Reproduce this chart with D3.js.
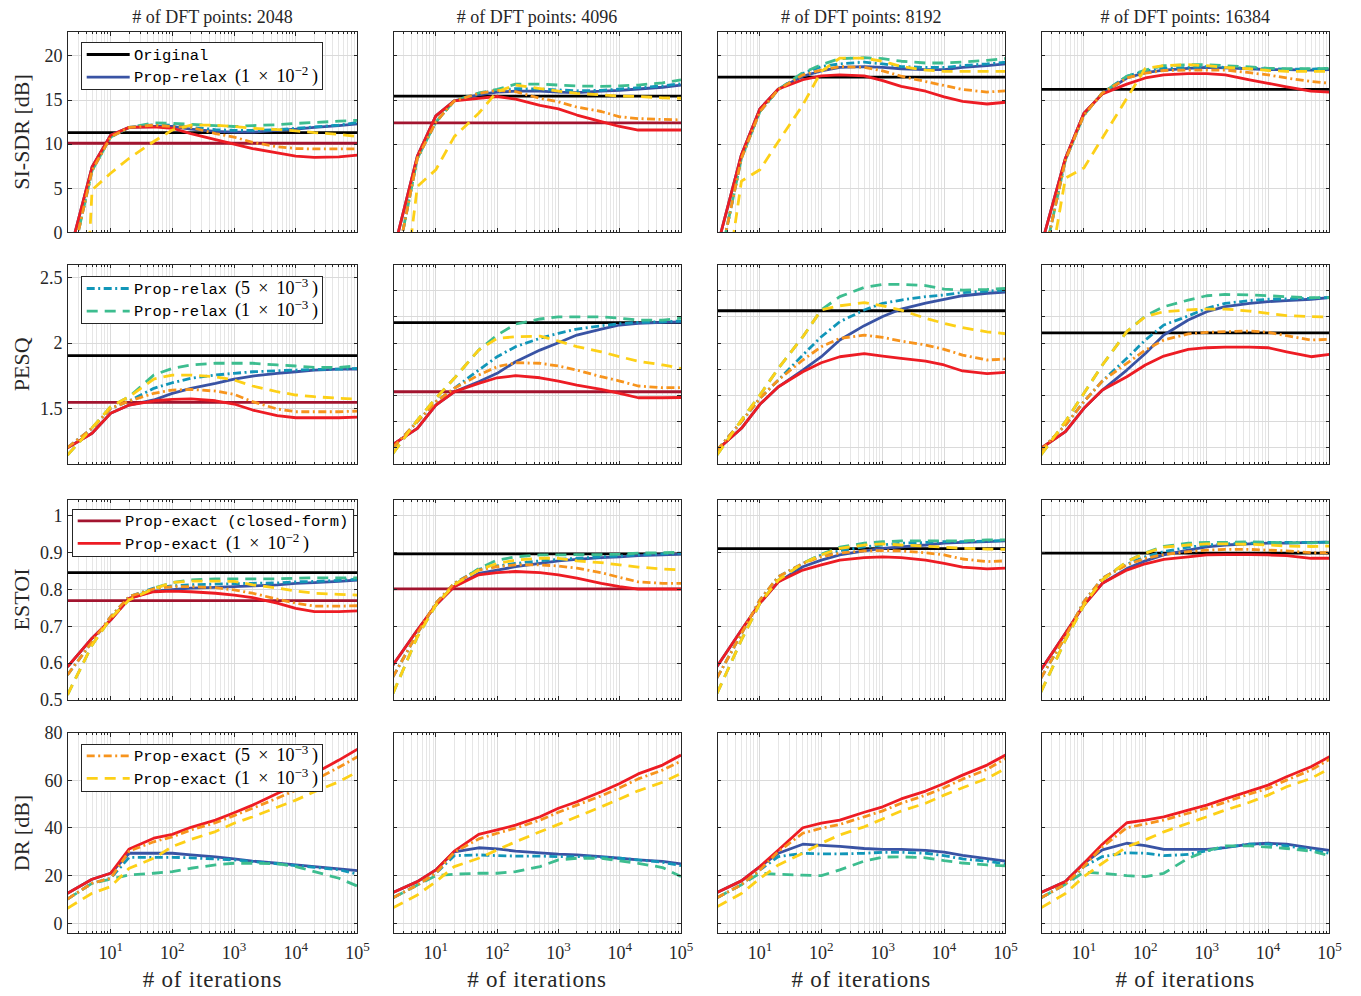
<!DOCTYPE html>
<html><head><meta charset="utf-8">
<script src="https://cdn.jsdelivr.net/npm/d3@7"></script>
<style>body{margin:0;background:#fff} svg{display:block}</style>
</head><body>
<svg id="chart" width="1361" height="996"></svg>
<script>
// ---------------- DATA ----------------
const iterations = [2,5,10,20,50,100,200,500,1000,2000,5000,10000,20000,50000,100000];
const dftSizes = [2048, 4096, 8192, 16384];
const metricNames = ["SI-SDR [dB]", "PESQ", "ESTOI", "DR [dB]"];
const curveKeys = ["relax1e2","relax5e3","relax1e3","exact1e2","exact5e3","exact1e3"];

// reference (horizontal) levels per DFT size
const originalSISDR   = [11.3, 15.45, 17.6, 16.2];
const closedFormSISDR = [10.1, 12.4, null, null];
const originalPESQ    = [1.903, 2.156, 2.247, 2.077];
const closedFormPESQ  = [1.546, 1.627, null, null];
const originalESTOI   = [0.846, 0.897, 0.911, 0.899];
const closedFormESTOI = [0.770, 0.802, null, null];
const originalDR      = [null, null, null, null];
const closedFormDR    = [null, null, null, null];

// each panel: [relax1e2, relax5e3, relax1e3, exact1e2, exact5e3, exact1e3]
const sisdr_2048 = [
 [-3.3,7.4,11.0,11.9,12.0,12.0,11.7,11.45,11.35,11.35,11.55,11.7,11.9,12.1,12.3],
 [-5.4,7.0,10.8,11.9,12.2,12.15,11.9,11.65,11.55,11.55,11.65,11.8,11.95,12.15,12.45],
 [-5.4,7.0,10.8,11.9,12.4,12.35,12.25,12.1,12.0,12.1,12.2,12.35,12.45,12.6,12.7],
 [-3.3,7.4,11.0,11.9,11.95,11.8,11.2,10.5,10.0,9.5,9.0,8.65,8.5,8.55,8.75],
 [-5.4,7.0,10.8,11.9,12.15,12.0,11.9,11.2,10.8,10.2,9.7,9.5,9.45,9.45,9.45],
 [-50,4.8,6.7,8.4,10.3,11.6,12.15,12.15,12.0,11.8,11.65,11.5,11.3,11.1,10.85]];
const sisdr_4096 = [
 [-2.4,8.65,13.2,14.9,15.6,15.9,16.0,16.0,15.9,15.85,16.0,16.1,16.25,16.45,16.7],
 [-5.5,8.4,12.5,14.9,15.75,16.1,16.3,16.25,16.15,16.05,16.1,16.25,16.4,16.6,16.85],
 [-5.5,8.4,12.5,14.9,15.8,16.2,16.8,16.8,16.7,16.6,16.55,16.6,16.7,16.95,17.3],
 [-2.4,8.65,13.2,14.9,15.2,15.4,15.1,14.4,14.0,13.3,12.55,12.0,11.6,11.6,11.6],
 [-5.5,8.4,12.5,14.9,15.75,16.1,15.95,15.2,14.8,14.2,13.7,13.1,12.9,12.8,12.75],
 [-17,5.2,7.1,10.85,13.5,15.95,16.7,16.3,16.0,15.75,15.6,15.45,15.4,15.25,15.2]];
const sisdr_8192 = [
 [-1.75,8.8,14.0,16.25,17.7,18.3,18.7,18.8,18.7,18.55,18.45,18.45,18.7,18.9,19.1],
 [-4.8,8.4,13.7,16.2,18.0,18.8,19.1,19.3,19.1,18.8,18.7,18.7,18.9,19.1,19.3],
 [-4.8,8.4,13.7,16.2,18.1,19.0,19.7,19.8,19.7,19.4,19.2,19.2,19.3,19.5,19.7],
 [-1.75,8.8,14.0,16.25,17.3,17.75,17.85,17.75,17.2,16.55,16.0,15.35,14.85,14.55,14.75],
 [-4.8,8.4,13.7,16.2,17.85,18.4,18.8,18.7,18.3,17.7,17.1,16.65,16.2,15.9,16.05],
 [-13.1,5.8,7.1,10.3,14.45,18.25,19.75,19.75,19.4,18.8,18.4,18.25,18.25,18.25,18.25]];
const sisdr_16384 = [
 [-1.6,8.4,13.5,15.7,17.5,18.1,18.4,18.6,18.7,18.65,18.55,18.45,18.45,18.4,18.45],
 [-4.5,8.2,13.3,15.8,17.7,18.3,18.6,18.7,18.8,18.7,18.6,18.55,18.5,18.5,18.6],
 [-4.5,8.2,13.3,15.8,17.7,18.4,18.9,19.0,19.0,18.9,18.75,18.6,18.55,18.55,18.6],
 [-1.6,8.4,13.5,15.7,16.8,17.5,17.85,18.0,18.0,17.85,17.3,16.9,16.5,16.0,15.9],
 [-4.5,8.2,13.3,15.8,17.5,18.05,18.35,18.4,18.4,18.4,18.1,17.85,17.5,17.1,16.9],
 [-9.8,6.15,7.3,10.7,15.2,18.6,18.9,19.0,18.9,18.7,18.55,18.35,18.25,18.25,18.25]];

const pesq_2048 = [
 [1.198,1.309,1.462,1.525,1.564,1.615,1.653,1.691,1.724,1.747,1.768,1.78,1.793,1.8,1.8],
 [1.2,1.347,1.5,1.556,1.653,1.696,1.73,1.755,1.768,1.78,1.788,1.793,1.798,1.8,1.806],
 [1.142,1.35,1.512,1.589,1.755,1.806,1.832,1.845,1.845,1.845,1.832,1.824,1.814,1.814,1.824],
 [1.198,1.309,1.462,1.525,1.558,1.569,1.572,1.558,1.533,1.487,1.444,1.428,1.428,1.428,1.432],
 [1.2,1.347,1.5,1.556,1.615,1.64,1.645,1.632,1.607,1.551,1.495,1.474,1.474,1.474,1.479],
 [1.142,1.35,1.512,1.589,1.724,1.755,1.755,1.742,1.717,1.671,1.627,1.602,1.589,1.577,1.571]];
const pesq_4096 = [
 [1.224,1.347,1.525,1.627,1.704,1.768,1.857,1.946,2.002,2.061,2.107,2.138,2.151,2.158,2.161],
 [1.2,1.398,1.551,1.653,1.793,1.895,1.972,2.036,2.074,2.107,2.132,2.148,2.158,2.163,2.168],
 [1.155,1.41,1.577,1.73,1.946,2.061,2.145,2.184,2.2,2.2,2.2,2.19,2.176,2.176,2.19],
 [1.224,1.347,1.525,1.627,1.691,1.734,1.75,1.734,1.709,1.678,1.645,1.615,1.581,1.581,1.583],
 [1.2,1.398,1.551,1.653,1.755,1.819,1.849,1.845,1.824,1.793,1.742,1.709,1.671,1.658,1.658],
 [1.155,1.41,1.577,1.73,1.946,2.036,2.048,2.053,2.015,1.972,1.933,1.895,1.861,1.832,1.806]];
const pesq_8192 = [
 [1.181,1.347,1.531,1.665,1.793,1.895,2.023,2.133,2.203,2.26,2.305,2.335,2.362,2.381,2.389],
 [1.18,1.398,1.577,1.717,1.908,2.048,2.163,2.253,2.304,2.329,2.355,2.368,2.386,2.398,2.405],
 [1.143,1.41,1.602,1.806,2.048,2.254,2.355,2.426,2.449,2.449,2.44,2.413,2.405,2.41,2.418],
 [1.181,1.347,1.531,1.665,1.78,1.849,1.895,1.918,1.9,1.883,1.862,1.832,1.786,1.765,1.775],
 [1.18,1.398,1.577,1.717,1.87,1.972,2.036,2.061,2.043,2.015,1.985,1.952,1.908,1.87,1.878],
 [1.143,1.41,1.602,1.806,2.048,2.254,2.285,2.31,2.285,2.252,2.189,2.151,2.117,2.086,2.071]];
const pesq_16384 = [
 [1.194,1.321,1.5,1.64,1.793,1.92,2.061,2.176,2.24,2.278,2.304,2.317,2.324,2.335,2.347],
 [1.18,1.372,1.551,1.709,1.883,2.023,2.138,2.207,2.266,2.304,2.324,2.335,2.338,2.342,2.35],
 [1.143,1.398,1.615,1.832,2.087,2.207,2.278,2.329,2.362,2.372,2.368,2.362,2.355,2.347,2.347],
 [1.194,1.321,1.5,1.64,1.742,1.832,1.9,1.952,1.964,1.969,1.969,1.964,1.933,1.895,1.913],
 [1.18,1.372,1.551,1.709,1.845,1.946,2.023,2.07,2.082,2.087,2.092,2.082,2.056,2.023,2.028],
 [1.143,1.398,1.615,1.832,2.087,2.202,2.24,2.253,2.26,2.26,2.245,2.227,2.21,2.202,2.2]];

const estoi_2048 = [
 [0.59,0.668,0.717,0.776,0.796,0.8,0.804,0.806,0.808,0.81,0.813,0.817,0.819,0.822,0.826],
 [0.568,0.658,0.726,0.781,0.804,0.81,0.813,0.815,0.816,0.817,0.818,0.821,0.822,0.825,0.828],
 [0.514,0.649,0.722,0.772,0.804,0.819,0.826,0.829,0.829,0.829,0.829,0.831,0.832,0.832,0.832],
 [0.59,0.668,0.717,0.776,0.794,0.796,0.794,0.79,0.785,0.778,0.763,0.749,0.74,0.74,0.742],
 [0.568,0.658,0.726,0.781,0.802,0.808,0.808,0.805,0.799,0.79,0.774,0.763,0.755,0.755,0.756],
 [0.514,0.649,0.722,0.772,0.802,0.819,0.823,0.823,0.822,0.813,0.804,0.796,0.79,0.787,0.785]];
const estoi_4096 = [
 [0.595,0.69,0.758,0.808,0.844,0.853,0.862,0.871,0.878,0.882,0.887,0.889,0.892,0.894,0.896],
 [0.563,0.681,0.763,0.817,0.855,0.864,0.871,0.878,0.882,0.885,0.889,0.891,0.894,0.897,0.899],
 [0.518,0.672,0.758,0.813,0.857,0.88,0.889,0.894,0.894,0.895,0.895,0.896,0.899,0.9,0.901],
 [0.595,0.69,0.758,0.808,0.84,0.846,0.849,0.846,0.84,0.831,0.817,0.808,0.801,0.801,0.801],
 [0.563,0.681,0.763,0.817,0.853,0.862,0.867,0.867,0.864,0.858,0.846,0.833,0.821,0.817,0.817],
 [0.518,0.672,0.758,0.813,0.853,0.871,0.88,0.885,0.885,0.878,0.873,0.867,0.861,0.856,0.853]];
const estoi_8192 = [
 [0.591,0.69,0.763,0.821,0.862,0.88,0.894,0.905,0.912,0.916,0.921,0.926,0.928,0.93,0.932],
 [0.56,0.68,0.772,0.835,0.871,0.894,0.905,0.916,0.921,0.926,0.928,0.93,0.93,0.932,0.933],
 [0.518,0.663,0.763,0.826,0.871,0.896,0.915,0.926,0.93,0.932,0.932,0.932,0.932,0.935,0.935],
 [0.591,0.69,0.763,0.821,0.853,0.867,0.88,0.887,0.889,0.887,0.88,0.871,0.861,0.856,0.858],
 [0.56,0.68,0.772,0.835,0.871,0.889,0.899,0.905,0.906,0.905,0.9,0.894,0.883,0.876,0.878],
 [0.518,0.663,0.763,0.826,0.871,0.894,0.912,0.921,0.924,0.921,0.918,0.915,0.912,0.91,0.909]];
const estoi_16384 = [
 [0.582,0.681,0.758,0.817,0.857,0.878,0.894,0.907,0.916,0.921,0.924,0.926,0.926,0.928,0.929],
 [0.56,0.672,0.767,0.831,0.869,0.889,0.903,0.915,0.921,0.924,0.926,0.928,0.928,0.928,0.929],
 [0.522,0.663,0.758,0.826,0.876,0.9,0.917,0.926,0.928,0.928,0.93,0.928,0.927,0.927,0.928],
 [0.582,0.681,0.758,0.817,0.853,0.87,0.882,0.889,0.894,0.895,0.895,0.894,0.892,0.885,0.885],
 [0.56,0.672,0.767,0.831,0.867,0.885,0.895,0.903,0.907,0.909,0.909,0.907,0.905,0.9,0.9],
 [0.522,0.663,0.758,0.826,0.876,0.899,0.915,0.921,0.924,0.924,0.923,0.921,0.918,0.917,0.918]];

const dr_2048 = [
 [12.6,18.5,21.0,29.4,29.4,29.4,28.7,27.9,27.0,26.1,25.2,24.5,23.8,22.8,22.1],
 [10.2,16.8,18.9,27.7,27.7,27.7,27.5,27.0,26.6,25.9,25.0,24.2,23.5,22.5,20.6],
 [10.2,16.8,18.5,20.3,21.0,21.7,23.1,24.5,25.2,25.2,25.0,23.8,21.7,18.9,15.6],
 [12.6,18.5,21.0,31.2,35.7,37.3,40.3,43.3,46.4,49.6,54.5,58.0,62.9,68.5,73.1],
 [10.2,16.8,18.9,30.3,34.2,36.3,39.2,42.2,45.2,48.3,52.5,55.9,60.1,65.5,69.9],
 [6.3,12.6,15.4,23.1,27.3,32.2,35.2,38.5,42.0,44.7,48.7,51.7,55.2,59.4,63.6]];
const dr_4096 = [
 [12.9,17.5,22.4,30.0,31.7,31.2,30.3,29.6,29.0,28.7,28.0,27.3,26.6,26.0,24.9],
 [10.7,16.1,21.0,28.4,28.7,28.4,28.2,28.2,28.0,28.0,27.7,27.3,26.6,25.6,24.2],
 [10.7,16.1,20.0,20.6,21.0,21.0,21.7,23.8,26.6,27.3,27.3,26.2,25.2,23.4,19.6],
 [12.9,17.5,22.4,30.3,37.3,39.2,41.2,44.7,48.3,51.0,55.2,58.7,62.7,66.4,70.6],
 [10.7,16.1,21.0,29.8,35.4,37.8,39.9,43.3,46.6,49.6,53.5,56.9,60.6,64.3,68.1],
 [6.5,11.9,17.5,23.8,27.3,30.8,34.2,38.4,41.5,44.7,48.9,52.2,55.6,59.2,62.9]];
const dr_8192 = [
 [12.9,17.8,23.8,29.4,33.2,32.7,32.3,31.4,31.0,31.0,30.6,29.9,28.5,27.1,26.1],
 [10.7,16.2,22.4,28.0,29.4,29.1,29.1,29.4,29.8,29.8,29.4,28.4,27.0,26.1,24.9],
 [10.7,16.2,21.0,20.6,20.2,20.0,22.4,26.1,27.8,27.9,27.5,26.3,25.3,24.5,24.1],
 [12.9,17.8,23.8,30.8,40.1,42.0,43.3,46.6,48.9,52.2,55.5,58.7,62.2,66.4,70.6],
 [10.7,16.2,22.4,30.1,37.8,39.9,41.5,44.7,47.2,50.4,53.8,56.9,60.5,64.6,69.2],
 [6.9,12.5,18.8,24.5,29.4,33.6,37.1,40.5,43.8,47.1,50.4,53.8,56.9,60.8,65.0]];
const dr_16384 = [
 [12.9,17.5,25.2,30.8,33.6,32.6,31.0,31.0,31.0,31.8,33.2,33.6,33.2,31.7,30.6],
 [10.7,16.4,23.8,28.0,29.6,29.4,28.4,28.9,30.4,31.9,33.2,33.2,32.5,30.8,29.4],
 [10.7,16.4,21.5,21.0,20.0,19.6,21.0,27.3,30.4,32.5,32.5,32.0,31.4,30.3,28.4],
 [12.9,17.5,25.2,33.2,42.2,43.3,44.7,47.5,49.6,52.2,55.5,58.0,61.5,65.7,69.9],
 [10.7,16.4,23.8,32.1,40.1,41.7,43.3,46.2,48.3,50.8,54.3,56.6,60.1,64.3,68.8],
 [6.5,12.5,19.6,25.2,32.1,35.0,38.4,42.0,44.7,47.5,50.8,53.8,57.3,60.8,65.0]];

// axis limits & ticks
const xLimits = [2, 100000];
const xMajorTicks = [10, 100, 1000, 10000, 100000];
const yLimitsSISDR = [0, 22.75];
const yLimitsPESQ  = [1.07, 2.605];
const yLimitsESTOI = [0.5, 1.046];
const yLimitsDR    = [-4.2, 80];
const yTicksSISDR = [0, 5, 10, 15, 20];
const yTicksPESQ  = [1.5, 2, 2.5];
const yTicksPESQFine = [1.2, 1.4, 1.6, 1.8, 2.0, 2.2, 2.4];
const yTicksESTOI = [0.5, 0.6, 0.7, 0.8, 0.9, 1];
const yTicksDR    = [0, 20, 40, 60, 80];

// ---------------- STYLE / LAYOUT ----------------
const serif = "'Liberation Serif','Times New Roman',serif";
const mono = "'Liberation Mono','DejaVu Sans Mono',monospace";
const axisColor = "#262626";
const styles = {
  original: {color:"#000000", dash:null},
  relax1e2: {color:"#3953a4", dash:null},
  relax5e3: {color:"#1196b8", dash:"8,3.5,2,3.5"},
  relax1e3: {color:"#3dbd8f", dash:"11,7"},
  closed:   {color:"#a2142f", dash:null},
  exact1e2: {color:"#ed1c24", dash:null},
  exact5e3: {color:"#f7941d", dash:"8,3.5,2,3.5"},
  exact1e3: {color:"#fdd017", dash:"11,7"}
};
const LW = 2.8;
const colLeft = [67.5, 393, 717, 1041];
const colWidth = [290, 288, 288.5, 288.5];
const rowTop = [31.7, 264, 499, 732.7];
const rowHeight = [200.6, 200.5, 201, 200.6];

const rowsSpec = [
  {panels:[sisdr_2048,sisdr_4096,sisdr_8192,sisdr_16384], orig:originalSISDR, closed:closedFormSISDR, lim:yLimitsSISDR, ticks:[yTicksSISDR,yTicksSISDR,yTicksSISDR,yTicksSISDR]},
  {panels:[pesq_2048,pesq_4096,pesq_8192,pesq_16384], orig:originalPESQ, closed:closedFormPESQ, lim:yLimitsPESQ, ticks:[yTicksPESQ,yTicksPESQFine,yTicksPESQFine,yTicksPESQFine]},
  {panels:[estoi_2048,estoi_4096,estoi_8192,estoi_16384], orig:originalESTOI, closed:closedFormESTOI, lim:yLimitsESTOI, ticks:[yTicksESTOI,yTicksESTOI,yTicksESTOI,yTicksESTOI]},
  {panels:[dr_2048,dr_4096,dr_8192,dr_16384], orig:originalDR, closed:closedFormDR, lim:yLimitsDR, ticks:[yTicksDR,yTicksDR,yTicksDR,yTicksDR]}
];

const legends = [
  {dx:14.2, dy:11, items:[{key:"original", mono:"Original"}, {key:"relax1e2", mono:"Prop-relax", m:"1", e:"−2"}]},
  {dx:14.2, dy:12.7, items:[{key:"relax5e3", mono:"Prop-relax", m:"5", e:"−3"}, {key:"relax1e3", mono:"Prop-relax", m:"1", e:"−3"}]},
  {dx:5.2, dy:10, items:[{key:"closed", mono:"Prop-exact (closed-form)"}, {key:"exact1e2", mono:"Prop-exact", m:"1", e:"−2"}]},
  {dx:14.2, dy:11.3, items:[{key:"exact5e3", mono:"Prop-exact", m:"5", e:"−3"}, {key:"exact1e3", mono:"Prop-exact", m:"1", e:"−3"}]}
];

// ---------------- DRAW ----------------
const svg = d3.select("#chart");
const defs = svg.append("defs");

function minorTicks() {
  const out = [];
  for (let p = 0; p <= 4; p++) for (let k = 2; k <= 9; k++) {
    const v = k * Math.pow(10, p);
    if (v >= xLimits[0] && v < xLimits[1]) out.push(v);
  }
  return out;
}
const xMinor = minorTicks();

rowsSpec.forEach((row, r) => {
  row.panels.forEach((series, c) => {
    const L = colLeft[c], T = rowTop[r], W = colWidth[c], H = rowHeight[r];
    const x = d3.scaleLog().domain(xLimits).range([L, L + W]);
    const y = d3.scaleLinear().domain(row.lim).range([T + H, T]);
    const g = svg.append("g");
    const clipId = `clip-${r}-${c}`;
    defs.append("clipPath").attr("id", clipId).append("rect")
      .attr("x", L).attr("y", T).attr("width", W).attr("height", H);

    g.append("rect").attr("x", L).attr("y", T).attr("width", W).attr("height", H).attr("fill", "#fff");
    const grid = g.append("g").attr("shape-rendering", "crispEdges");
    grid.selectAll(".mn").data(xMinor).join("line")
      .attr("x1", d => x(d)).attr("x2", d => x(d)).attr("y1", T).attr("y2", T + H)
      .attr("stroke", "#e6e6e6").attr("stroke-width", 1);
    grid.selectAll(".mj").data(xMajorTicks).join("line")
      .attr("x1", d => x(d)).attr("x2", d => x(d)).attr("y1", T).attr("y2", T + H)
      .attr("stroke", "#dadada").attr("stroke-width", 1);
    const yt = row.ticks[c];
    grid.selectAll(".yg").data(yt).join("line")
      .attr("x1", L).attr("x2", L + W).attr("y1", d => y(d)).attr("y2", d => y(d))
      .attr("stroke", "#dadada").attr("stroke-width", 1);

    const plot = g.append("g").attr("clip-path", `url(#${clipId})`);
    const line = d3.line().x(d => x(d[0])).y(d => y(d[1]));
    function drawLine(pts, key) {
      const st = styles[key];
      plot.append("path").datum(pts).attr("d", line)
        .attr("fill", "none").attr("stroke", st.color).attr("stroke-width", LW)
        .attr("stroke-linejoin", "round")
        .attr("stroke-dasharray", st.dash);
    }
    if (row.orig[c] != null) drawLine([[xLimits[0], row.orig[c]], [xLimits[1], row.orig[c]]], "original");
    for (let s = 0; s < 3; s++) drawLine(iterations.map((it, i) => [it, series[s][i]]), curveKeys[s]);
    if (row.closed[c] != null) drawLine([[xLimits[0], row.closed[c]], [xLimits[1], row.closed[c]]], "closed");
    for (let s = 3; s < 6; s++) drawLine(iterations.map((it, i) => [it, series[s][i]]), curveKeys[s]);

    const fr = g.append("g").attr("stroke", axisColor).attr("shape-rendering", "crispEdges");
    fr.append("rect").attr("x", L).attr("y", T).attr("width", W).attr("height", H)
      .attr("fill", "none").attr("stroke-width", 1);
    const tk = (v, len) => {
      fr.append("line").attr("x1", x(v)).attr("x2", x(v)).attr("y1", T + H).attr("y2", T + H - len);
      fr.append("line").attr("x1", x(v)).attr("x2", x(v)).attr("y1", T).attr("y2", T + len);
    };
    xMajorTicks.forEach(v => tk(v, 4));
    xMinor.forEach(v => tk(v, 2.5));
    yt.forEach(v => {
      fr.append("line").attr("x1", L).attr("x2", L + 4).attr("y1", y(v)).attr("y2", y(v));
      fr.append("line").attr("x1", L + W).attr("x2", L + W - 4).attr("y1", y(v)).attr("y2", y(v));
    });

    if (c === 0) {
      yt.forEach(v => {
        g.append("text").attr("x", L - 5).attr("y", y(v)).attr("dy", "0.35em")
          .attr("text-anchor", "end").attr("font-family", serif).attr("font-size", 18)
          .attr("fill", axisColor).text(String(v));
      });
      svg.append("text").attr("transform", `translate(28.5,${T + H / 2}) rotate(-90)`)
        .attr("text-anchor", "middle").attr("font-family", serif).attr("font-size", 22)
        .attr("fill", axisColor).text(metricNames[r]);
    }
    if (r === 3) {
      xMajorTicks.forEach(v => {
        const t = g.append("text").attr("x", x(v)).attr("y", T + H + 26)
          .attr("text-anchor", "middle").attr("font-family", serif).attr("font-size", 18)
          .attr("fill", axisColor);
        t.append("tspan").text("10");
        t.append("tspan").attr("dy", -8).attr("font-size", 13).text(String(Math.round(Math.log10(v))));
      });
      svg.append("text").attr("x", L + W / 2).attr("y", 987).attr("text-anchor", "middle")
        .attr("font-family", serif).attr("font-size", 23).attr("letter-spacing", 0.8)
        .attr("fill", axisColor).text("# of iterations");
    }
    if (r === 0) {
      svg.append("text").attr("x", L + W / 2).attr("y", 23).attr("text-anchor", "middle")
        .attr("font-family", serif).attr("font-size", 18).attr("fill", axisColor)
        .text(`# of DFT points: ${dftSizes[c]}`);
    }

    if (c === 0) {
      const lg = legends[r];
      const lx = L + lg.dx, ly = T + lg.dy;
      const box = g.append("rect").attr("x", lx).attr("y", ly).attr("height", 47)
        .attr("fill", "#fff").attr("stroke", axisColor).attr("stroke-width", 1)
        .attr("shape-rendering", "crispEdges");
      let maxR = 0;
      lg.items.forEach((it, i) => {
        const yy = ly + 11.8 + i * 22.6;
        const st = styles[it.key];
        g.append("line").attr("x1", lx + 5).attr("x2", lx + 48).attr("y1", yy).attr("y2", yy)
          .attr("stroke", st.color).attr("stroke-width", LW).attr("stroke-dasharray", st.dash);
        const t = g.append("text").attr("x", lx + 52.3).attr("y", yy).attr("dy", "0.33em")
          .attr("fill", "#000").attr("font-size", 15.5);
        t.append("tspan").attr("font-family", mono).text(it.mono);
        if (it.m) {
          t.append("tspan").attr("font-family", serif).attr("font-size", 18).text(`\u2009 (${it.m}\u2009 × \u200910`);
          t.append("tspan").attr("font-family", serif).attr("font-size", 13).attr("dy", -7).text(it.e);
          t.append("tspan").attr("font-family", serif).attr("font-size", 18).attr("dy", 7).text("\u2009)");
        }
        const bb = t.node().getBBox();
        maxR = Math.max(maxR, bb.x + bb.width);
      });
      box.attr("width", maxR - lx + 5);
    }
  });
});
</script>
</body></html>
